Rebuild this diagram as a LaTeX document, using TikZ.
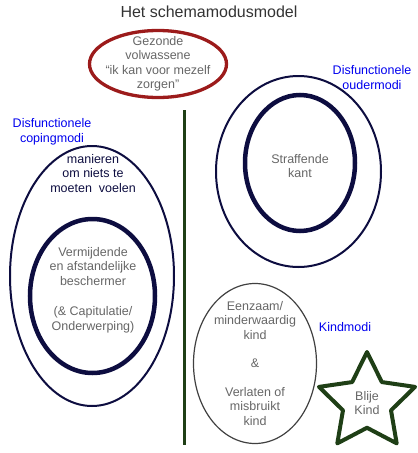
\documentclass[tikz,border=0pt]{standalone}
\usepackage{fontspec}
\setmainfont{Liberation Sans}
\usetikzlibrary{shapes.geometric,positioning}
\definecolor{navyline}{HTML}{0D0D40}
\definecolor{adultred}{HTML}{9C1B1B}
\definecolor{happygreen}{HTML}{1F3F16}
\definecolor{modeblue}{HTML}{0000EE}
\definecolor{textgrey}{HTML}{666666}

\begin{document}
\begin{tikzpicture}[
    x=1pt, y=-1pt,
    every node/.style={font=\fontsize{12.5}{14.5}\selectfont, align=center, inner sep=0pt},
    heading/.style={font=\fontsize{16}{18}\selectfont, text=black!80},
    modetext/.style={text=textgrey},
    grouplabel/.style={text=modeblue},
    adult/.style={draw=adultred, ellipse, line width=3.3pt},
    outerring/.style={draw=navyline, ellipse, line width=2pt},
    innerring/.style={draw=navyline, ellipse, line width=4.5pt},
    childring/.style={draw=black!75, ellipse, line width=1.2pt},
    happystar/.style={draw=happygreen, star, star points=5, star point ratio=2, line width=4pt, line join=round},
    divider/.style={draw=happygreen, line width=3pt}
]
\useasboundingbox (0,0) rectangle (418,453);

\node[heading] (title) at (209,12) {Het schemamodusmodel};

% gezonde volwassene
\node[adult, minimum width=137, minimum height=67] (healthy) at (158,64) {};
\node[modetext] (healthytxt) at (healthy.center) {Gezonde\\volwassene\\“ik kan voor mezelf\\zorgen”};

% scheiding
\coordinate (divtop) at (184,110);
\coordinate (divbot) at (184,445);
\draw[divider] (divtop) -- (divbot);

% ouder
\node[outerring, minimum width=165, minimum height=191] (parent) at (298.5,171.5) {};
\node[innerring, minimum width=110, minimum height=136] (punish) at (300,163) {};
\node[modetext] (punishtxt) at (300,166) {Straffende\\kant};
\node[grouplabel] (parentlbl) at (372,77.5) {Disfunctionele\\oudermodi};

% coping
\node[outerring, minimum width=164, minimum height=260] (coping) at (92,276) {};
\node[innerring, minimum width=125, minimum height=154] (avoid) at (92.5,296) {};
\node[text=navyline] (copingtxt) at (93,173.5) {manieren\\om niets te\\moeten~~voelen};
\node[modetext] (avoidtxt) at (93,290) {Vermijdende\\en afstandelijke\\beschermer\\[16pt](\& Capitulatie/\\Onderwerping)};
\node[grouplabel] (copinglbl) at (52,132) {Disfunctionele\\copingmodi};

% kind
\node[childring, minimum width=123, minimum height=160] (child) at (255,363.5) {};
\node[modetext] (childtxt) at (child.center) {Eenzaam/\\minderwaardig\\kind\\[14pt]\&\\[14pt]Verlaten of\\misbruikt\\kind};
\node[grouplabel] (childlbl) at (345,327) {Kindmodi};
\node[happystar, minimum size=101] (happy) at (367,402.5) {};
\node[modetext] (happytxt) at (367,403) {Blije\\Kind};
\end{tikzpicture}
\end{document}
